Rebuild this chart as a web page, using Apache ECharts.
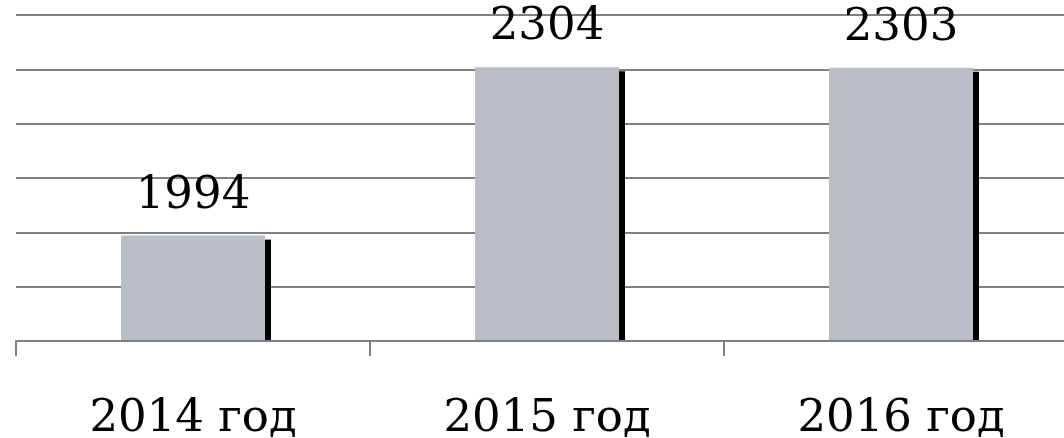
<!DOCTYPE html>
<html>
<head>
<meta charset="utf-8">
<script src="https://cdn.jsdelivr.net/npm/echarts@6/dist/echarts.min.js"></script>
<style>
html,body{margin:0;padding:0;background:#fff;}
#chart{width:1064px;height:438px;}
</style>
</head>
<body>
<div id="chart"></div>
<script>
const categories = ['2014 год', '2015 год', '2016 год'];
const values = [1994, 2304, 2303];
const yMin = 1800, yMax = 2400, yStep = 100;

const chart = echarts.init(document.getElementById('chart'), null, {renderer: 'canvas'});
const FONT = 'DejaVu Serif';
const BAR_W = 144;

chart.setOption({
  animation: false,
  backgroundColor: '#ffffff',
  grid: {left: 16, top: 15, width: 1062, height: 326, containLabel: false, outerBoundsMode: 'none'},
  xAxis: {
    type: 'category',
    data: categories,
    z: 5,
    axisLine: {show: true, lineStyle: {color: '#808080', width: 2}},
    axisTick: {show: true, length: 15, lineStyle: {color: '#808080', width: 2}},
    axisLabel: {color: '#000', fontFamily: FONT, fontSize: 45, margin: 56}
  },
  yAxis: {
    type: 'value',
    min: yMin, max: yMax, interval: yStep,
    axisLine: {show: false},
    axisTick: {show: false},
    axisLabel: {show: false},
    splitLine: {show: true, lineStyle: {color: '#808080', width: 2}}
  },
  series: [
    {
      type: 'custom',
      z: 1,
      data: values.map((v, i) => [i, v]),
      renderItem: function (params, api) {
        const top = api.coord([api.value(0), api.value(1)]);
        const base = api.coord([api.value(0), yMin]);
        return {
          type: 'rect',
          shape: {x: top[0] + BAR_W / 2, y: top[1] + 4, width: 6, height: base[1] - top[1] - 4},
          style: {fill: '#000000'}
        };
      }
    },
    {
      type: 'bar',
      z: 2,
      data: values,
      barWidth: BAR_W,
      itemStyle: {color: '#b9bdc6'},
      label: {show: true, position: 'top', distance: 17, color: '#000', fontFamily: FONT, fontSize: 45}
    }
  ]
});
</script>
</body>
</html>
